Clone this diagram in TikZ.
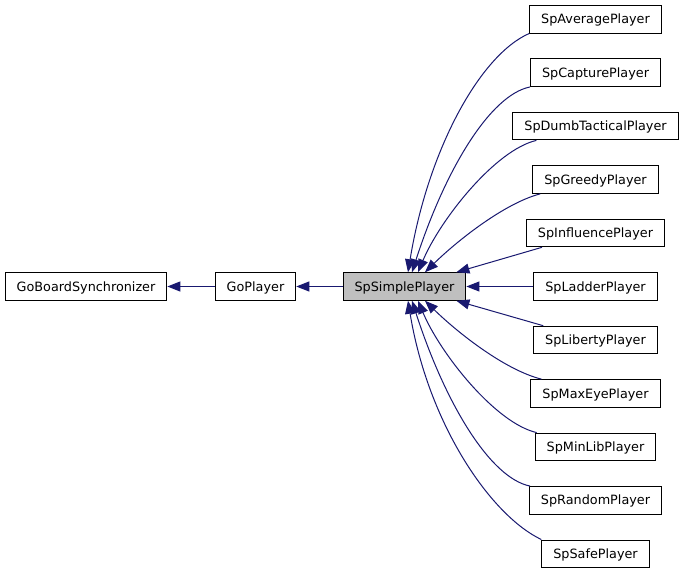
\documentclass[tikz,border=0pt]{standalone}
\usepackage{fontspec}
\setmainfont{DejaVu Sans}
\usetikzlibrary{arrows.meta,calc}
\definecolor{edgeblue}{HTML}{191970}
\definecolor{grayfill}{HTML}{BFBFBF}
\begin{document}
\begin{tikzpicture}[x=1pt,y=-1pt,
  cls/.style={draw=black, line width=1pt, fill=white, font=\fontsize{12.8}{15}\selectfont,
    inner xsep=11.5pt, inner ysep=0pt, minimum height=27.5pt, text height=9.3pt, text depth=0pt},
  edge/.style={draw=edgeblue, line width=1pt, -{Triangle[length=13pt,width=10pt]}}]
\useasboundingbox[fill=white] (0,0) rectangle (683,573);
% nodes
\node[cls] (gbs) at (86,286.5) {GoBoardSynchronizer};
\node[cls] (gp) at (255.5,286.5) {GoPlayer};
\node[cls, fill=grayfill] (sp) at (404.5,286.5) {SpSimplePlayer};
\node[cls] (avg)    at (595.5,19.25)  {SpAveragePlayer};
\node[cls] (cap)    at (595.5,72.7)   {SpCapturePlayer};
\node[cls] (dumb)   at (595.5,126.15) {SpDumbTacticalPlayer};
\node[cls] (greedy) at (595.5,179.6)  {SpGreedyPlayer};
\node[cls] (infl)   at (595.5,233.05) {SpInfluencePlayer};
\node[cls] (ladder) at (595.5,286.5)  {SpLadderPlayer};
\node[cls] (lib)    at (595.5,339.95) {SpLibertyPlayer};
\node[cls] (maxeye) at (595.5,393.4)  {SpMaxEyePlayer};
\node[cls] (minlib) at (595.5,446.85) {SpMinLibPlayer};
\node[cls] (random) at (595.5,500.3)  {SpRandomPlayer};
\node[cls] (safe)   at (595.5,553.75) {SpSafePlayer};
% straight edges
\draw[edge] (gp) -- (gbs);
\draw[edge] (sp) -- (gp);
\draw[edge] (ladder) -- (sp);
% upper curves
\draw[edge] (avg.south west) .. controls (480,55) and (428,150) .. ($(sp.north)+(3.5,0)$);
\draw[edge] (cap.south west) .. controls (490,95) and (445,170) .. ($(sp.north)+(7.5,0)$);
\draw[edge] ($(dumb.south west)+(24,0)$) .. controls (495,150) and (440,220) .. ($(sp.north)+(13.5,0)$);
\draw[edge] ($(greedy.south west)+(8,0)$) .. controls (505,203) and (458,240) .. ($(sp.north)+(20.5,0)$);
\draw[edge] ($(infl.south west)+(16,0)$) -- ($(sp.north east)+(-10,0)$);
% lower curves
\draw[edge] ($(lib.north west)+(10,0)$) -- ($(sp.south east)+(-10,0)$);
\draw[edge] ($(maxeye.north west)+(11,0)$) .. controls (505,370) and (458,333) .. ($(sp.south)+(20.5,0)$);
\draw[edge] ($(minlib.north west)+(2,0)$) .. controls (495,423) and (440,353) .. ($(sp.south)+(13.5,0)$);
\draw[edge] ($(random.north west)+(1,0)$) .. controls (490,478) and (445,403) .. ($(sp.south)+(7.5,0)$);
\draw[edge] (safe.north west) .. controls (490,515) and (428,423) .. ($(sp.south)+(3.5,0)$);
\end{tikzpicture}
\end{document}
